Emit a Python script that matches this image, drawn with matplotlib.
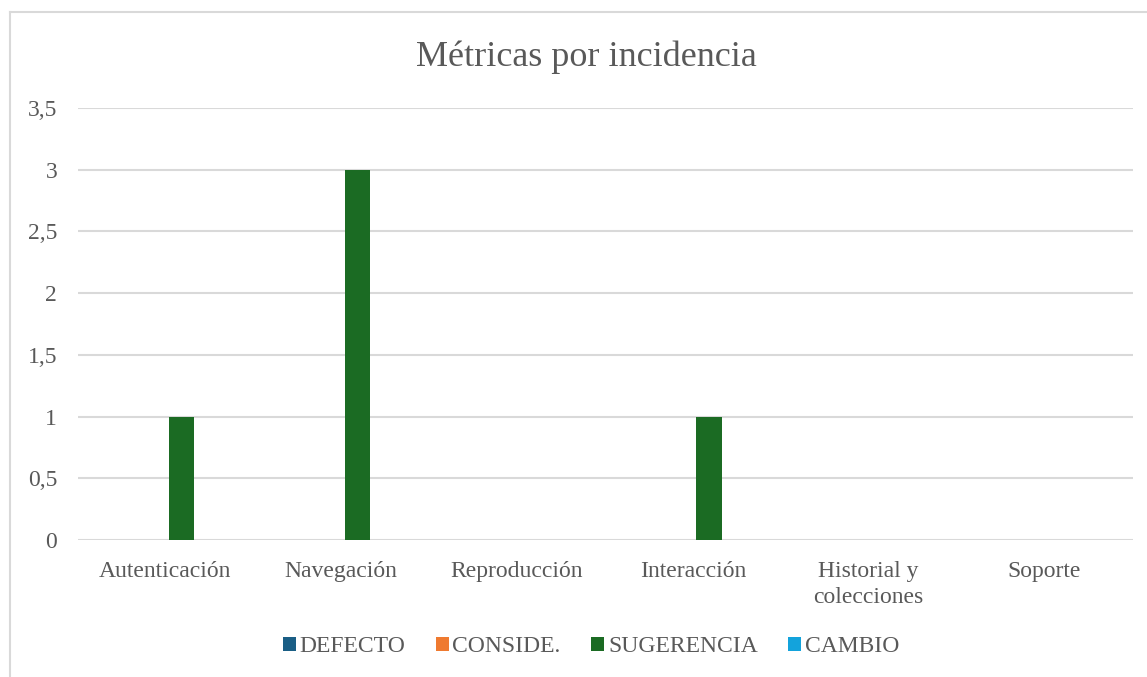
import matplotlib
matplotlib.use("Agg")
import matplotlib.pyplot as plt
from matplotlib.lines import Line2D
from matplotlib.patches import Patch
import numpy as np

categories = ["Autenticación", "Navegación", "Reproducción", "Interacción",
              "Historial y\ncolecciones", "Soporte"]
series_names = ["DEFECTO", "CONSIDE.", "SUGERENCIA", "CAMBIO"]
defecto = [0, 0, 0, 0, 0, 0]
conside = [0, 0, 0, 0, 0, 0]
sugerencia = [1, 3, 0, 1, 0, 0]
cambio = [0, 0, 0, 0, 0, 0]
colors = ["#1a5e85", "#ef7a30", "#1b6b23", "#13a3dc"]
yticks = [0, 0.5, 1, 1.5, 2, 2.5, 3, 3.5]
ytick_labels = ["0", "0,5", "1", "1,5", "2", "2,5", "3", "3,5"]

W, H = 1147, 677
fig = plt.figure(figsize=(W / 100, H / 100), dpi=100)
plt.rcParams['font.family'] = ['Liberation Serif', 'DejaVu Serif']
text_color = "#595959"
grid_color = "#d9d9d9"

# outer chart border (left and top visible)
fig.add_artist(Line2D([10 / W, 10 / W], [0, 1 - 12 / H], transform=fig.transFigure,
                      color=grid_color, lw=1.5))
fig.add_artist(Line2D([10 / W, 1], [1 - 12 / H, 1 - 12 / H], transform=fig.transFigure,
                      color=grid_color, lw=1.5))

left, right = 78, 1133
top, bottom = 108, 540
ax = fig.add_axes([left / W, 1 - bottom / H, (right - left) / W, (bottom - top) / H])

x = np.arange(len(categories))
bw = 0.145
all_series = [defecto, conside, sugerencia, cambio]
for i, (name, vals, c) in enumerate(zip(series_names, all_series, colors)):
    ax.bar(x + (i - 1.5) * bw, vals, width=bw, color=c, label=name, zorder=3)

ax.set_xlim(-0.517, len(categories) - 0.517)
ax.set_ylim(0, 3.5)
ax.set_yticks(yticks)
ax.set_yticklabels(ytick_labels)
ax.set_xticks(x - 0.02)
ax.set_xticklabels(categories, linespacing=1.3)
ax.tick_params(axis='both', length=0, colors=text_color, labelsize=17)
ax.tick_params(axis='y', pad=15)
ax.tick_params(axis='x', pad=15)
for lbl in ax.get_yticklabels():
    lbl.set_horizontalalignment('right')
ax.grid(axis='y', color=grid_color, lw=1.5, zorder=0)
for s in ax.spines.values():
    s.set_visible(False)

fig.text(0.5 * (413 + 760) / W, 1 - 57 / H, "Métricas por incidencia",
         ha='center', va='center', fontsize=26, color=text_color)

handles = [Patch(facecolor=c, edgecolor='none') for c in colors]
fig.legend(handles, series_names, loc='center', bbox_to_anchor=(591 / W, 1 - 647 / H),
           ncol=4, frameon=False, fontsize=17, labelcolor=text_color,
           handlelength=0.55, handleheight=0.55, handletextpad=0.15, columnspacing=1.3)

fig.savefig("out.png", dpi=100, facecolor="white")
